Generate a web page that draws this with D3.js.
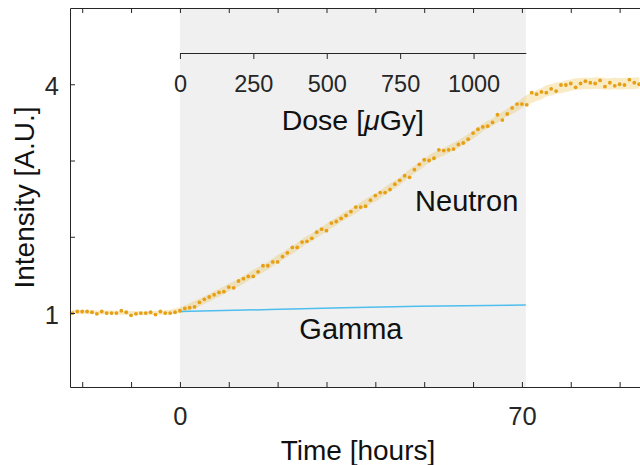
<!DOCTYPE html>
<html>
<head>
<meta charset="utf-8">
<script src="https://cdn.jsdelivr.net/npm/d3@7"></script>
<style>
  body { margin: 0; background: #fff; }
  svg text { font-family: "Liberation Sans", Arial, Helvetica, sans-serif; }
</style>
</head>
<body>
<div id="root"></div>
<script>
// hourly neutron intensity, t = -22 .. 94 h
var hours = d3.range(-22, 95);
var neutron = [
    1.00, 1.02, 1.02, 1.02, 1.01, 0.99, 1.02, 1.00, 1.00, 1.00,
    1.03, 1.01, 0.97, 0.99, 1.00, 1.00, 1.01, 0.98, 1.02, 1.00,
    1.00, 1.01, 1.03, 1.06, 1.07, 1.08, 1.14, 1.18, 1.21, 1.24,
    1.27, 1.28, 1.34, 1.33, 1.42, 1.45, 1.48, 1.48, 1.54, 1.62,
    1.62, 1.67, 1.67, 1.74, 1.79, 1.86, 1.86, 1.93, 1.94, 1.98,
    2.06, 2.10, 2.08, 2.18, 2.20, 2.24, 2.28, 2.33, 2.39, 2.39,
    2.40, 2.48, 2.54, 2.58, 2.58, 2.62, 2.69, 2.74, 2.80, 2.78,
    2.88, 2.95, 3.01, 3.00, 3.03, 3.14, 3.13, 3.14, 3.15, 3.21,
    3.23, 3.28, 3.36, 3.41, 3.44, 3.45, 3.50, 3.60, 3.53, 3.61,
    3.69, 3.74, 3.74, 3.73, 3.89, 3.87, 3.90, 3.89, 3.94, 3.91,
    3.99, 3.99, 4.01, 3.96, 4.01, 4.04, 4.02, 4.01, 4.05, 3.97,
    4.02, 3.98, 4.00, 3.99, 4.06, 4.02, 4.00
];
// band half width before / during / after irradiation
var bandHalf = [0.025, 0.05, 0.075];

var gammaHours = [0, 25, 49, 70.8];
var gammaValues = [1.02, 1.055, 1.09, 1.105];

var irradiationEnd = 70.8;     // hours
var doseMax = 1178;            // uGy at end of irradiation
var doseTicks = [0, 250, 500, 750, 1000];
var timeTicks = d3.range(-20, 91, 10);
var timeLabels = [0, 70];
var intensityTicks = [1, 2, 3, 4];
var intensityLabels = [1, 4];

var W = 640, H = 465;
var margin = {left: 70, right: 646, top: 8, bottom: 387};
var ink = "#262626";
var font = "'Liberation Sans', Arial, Helvetica, sans-serif";

var x = d3.scaleLinear().domain([-22.5, 95.4]).range([margin.left, margin.right]);
var y = d3.scaleLinear().domain([0.03, 5]).range([margin.bottom, margin.top]);
var dose = d3.scaleLinear().domain([0, doseMax]).range([x(0), x(irradiationEnd)]);

var svg = d3.select("#root").append("svg")
    .attr("width", W)
    .attr("height", H);

svg.append("defs").append("clipPath").attr("id", "plot")
    .append("rect")
    .attr("x", margin.left).attr("y", margin.top)
    .attr("width", margin.right - margin.left)
    .attr("height", margin.bottom - margin.top);

// irradiation period
svg.append("rect")
    .attr("x", x(0))
    .attr("y", margin.top)
    .attr("width", x(irradiationEnd) - x(0))
    .attr("height", margin.bottom - margin.top)
    .attr("fill", "#f0f0f0");

var data = hours.map(function (h, i) {
    return {h: h, v: neutron[i]};
});

// smoothed band
var half = function (h) {
    return h < 0 ? bandHalf[0] : (h <= irradiationEnd ? bandHalf[1] : bandHalf[2]);
};
var band = data.map(function (d, i) {
    var lo = Math.max(0, i - 3), hi = Math.min(data.length, i + 4);
    var win = data.slice(lo, hi);
    return {
        h: d.h,
        m: d3.mean(win, function (e) { return e.v; }),
        w: d3.mean(win, function (e) { return half(e.h); })
    };
});

var plot = svg.append("g").attr("clip-path", "url(#plot)");

plot.append("path")
    .datum(band)
    .attr("fill", "#edb120")
    .attr("fill-opacity", 0.25)
    .attr("d", d3.area()
        .curve(d3.curveMonotoneX)
        .x(function (d) { return x(d.h); })
        .y0(function (d) { return y(d.m - d.w); })
        .y1(function (d) { return y(d.m + d.w); }));

plot.append("path")
    .datum(gammaHours.map(function (h, i) { return [h, gammaValues[i]]; }))
    .attr("fill", "none")
    .attr("stroke", "#4dbeee")
    .attr("stroke-width", 1.5)
    .attr("d", d3.line()
        .curve(d3.curveMonotoneX)
        .x(function (d) { return x(d[0]); })
        .y(function (d) { return y(d[1]); }));

plot.selectAll(".dot")
    .data(data)
    .enter()
    .append("circle")
    .attr("class", "dot")
    .attr("cx", function (d) { return x(d.h); })
    .attr("cy", function (d) { return y(d.v); })
    .attr("r", 1.9)
    .attr("fill", "#e6a015");

// axes
function style(g, size) {
    g.attr("color", ink).attr("font-family", font).attr("font-size", size);
    g.selectAll("path, line").attr("stroke-width", 1);
}

svg.append("g")
    .attr("transform", "translate(0," + margin.bottom + ")")
    .call(d3.axisBottom(x)
        .tickValues(timeTicks)
        .tickSizeInner(-5)
        .tickSizeOuter(0)
        .tickPadding(20)
        .tickFormat(function (d) { return timeLabels.indexOf(d) >= 0 ? d : ""; }))
    .call(style, 25.5);

svg.append("g")
    .attr("transform", "translate(0," + margin.top + ")")
    .call(d3.axisTop(x)
        .tickValues(timeTicks)
        .tickSizeInner(-5)
        .tickSizeOuter(0)
        .tickFormat(""))
    .call(style, 25);

svg.append("g")
    .attr("transform", "translate(" + margin.left + ",0)")
    .call(d3.axisLeft(y)
        .tickValues(intensityTicks)
        .tickSizeInner(-5)
        .tickSizeOuter(0)
        .tickPadding(11)
        .tickFormat(function (d) { return intensityLabels.indexOf(d) >= 0 ? d : ""; }))
    .call(style, 25.5)
    .selectAll("text").attr("dy", "0.42em");

svg.append("g")
    .attr("transform", "translate(" + margin.right + ",0)")
    .call(d3.axisRight(y)
        .tickValues(intensityTicks)
        .tickSizeInner(-5)
        .tickSizeOuter(0)
        .tickFormat(""))
    .call(style, 25);

// dose axis
svg.append("g")
    .attr("transform", "translate(0,53)")
    .call(d3.axisBottom(dose)
        .tickValues(doseTicks)
        .tickSizeInner(6)
        .tickSizeOuter(0)
        .tickPadding(16)
        .tickFormat(d3.format("d")))
    .call(style, 23.5);

svg.append("text")
    .attr("x", (dose(0) + dose(doseMax)) / 2)
    .attr("y", 130)
    .attr("text-anchor", "middle")
    .attr("font-size", 28.5)
    .attr("fill", "#111")
    .call(function (t) {
        t.append("tspan").text("Dose [");
        t.append("tspan").attr("font-style", "italic").text("\u03bc");
        t.append("tspan").text("Gy]");
    });

// axis titles
svg.append("text")
    .attr("x", (margin.left + margin.right) / 2)
    .attr("y", 460)
    .attr("text-anchor", "middle")
    .attr("font-size", 28)
    .attr("fill", "#111")
    .text("Time [hours]");

svg.append("text")
    .attr("transform", "translate(34," + (margin.top + margin.bottom) / 2 + ") rotate(-90)")
    .attr("text-anchor", "middle")
    .attr("font-size", 28)
    .attr("fill", "#111")
    .text("Intensity [A.U.]");

// series labels
svg.append("text")
    .attr("x", x(58.7))
    .attr("y", y(2.34))
    .attr("text-anchor", "middle")
    .attr("font-size", 29)
    .attr("fill", "#111")
    .text("Neutron");

svg.append("text")
    .attr("x", x(35))
    .attr("y", y(0.66))
    .attr("text-anchor", "middle")
    .attr("font-size", 29)
    .attr("fill", "#111")
    .text("Gamma");
</script>
</body>
</html>
